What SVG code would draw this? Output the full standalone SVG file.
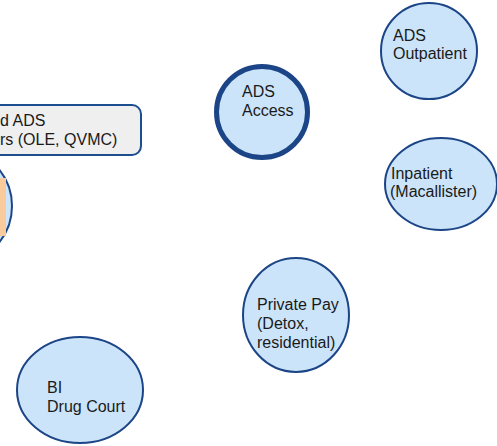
<svg xmlns="http://www.w3.org/2000/svg" width="497" height="446" viewBox="0 0 497 446">
  <style>
    .node { fill: #cbe4f9; stroke: #1c4587; stroke-width: 2; }
    .hub { fill: #cbe4f9; stroke: #1c4587; stroke-width: 5; }
    .box { fill: #efefef; stroke: #1c4d8f; stroke-width: 2; }
    .mark { fill: #f9cb9c; stroke: none; }
    text { font-family: "Liberation Sans", Arial, sans-serif; font-size: 16px; fill: #1a1a1a; }
  </style>
  <rect width="497" height="446" fill="#ffffff"/>

  <g id="connectors"></g>

  <g id="embedded-providers">
    <rect class="box" x="-60" y="105" width="201" height="50" rx="9"/>
    <text x="0" y="126">d ADS</text>
    <text x="0" y="145">rs (OLE, QVMC)</text>
  </g>

  <g id="left-node">
    <ellipse class="node" cx="-46" cy="206" rx="58" ry="58"/>
    <rect class="mark" x="-10" y="178" width="16" height="58"/>
  </g>

  <g id="ads-access">
    <circle class="hub" cx="262" cy="112" r="45.5"/>
    <text x="242" y="97">ADS</text>
    <text x="242" y="116">Access</text>
  </g>

  <g id="ads-outpatient">
    <ellipse class="node" cx="429" cy="51" rx="48" ry="48"/>
    <text x="393" y="41">ADS</text>
    <text x="393" y="59">Outpatient</text>
  </g>

  <g id="inpatient">
    <ellipse class="node" cx="441" cy="184" rx="56" ry="46"/>
    <text x="391" y="179">Inpatient</text>
    <text x="390" y="197">(Macallister)</text>
  </g>

  <g id="private-pay">
    <ellipse class="node" cx="296" cy="315" rx="53" ry="57"/>
    <text x="257" y="310">Private Pay</text>
    <text x="257" y="329">(Detox,</text>
    <text x="257" y="348">residential)</text>
  </g>

  <g id="bi-drug-court">
    <ellipse class="node" cx="80" cy="390" rx="63" ry="53"/>
    <text x="47" y="393">BI</text>
    <text x="47" y="412">Drug Court</text>
  </g>
</svg>
